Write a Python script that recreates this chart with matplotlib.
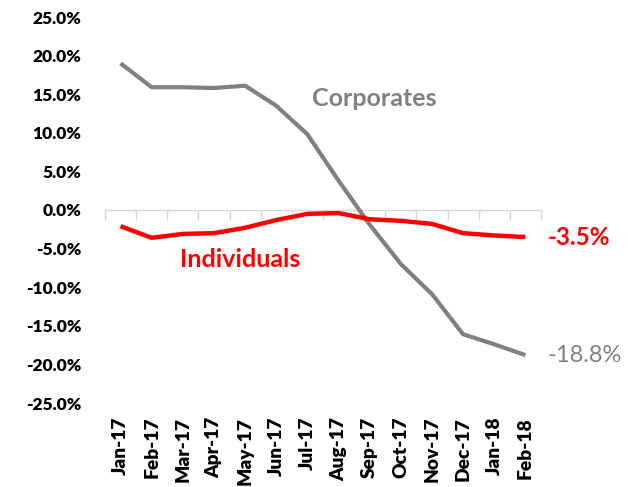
import matplotlib
matplotlib.use("Agg")
import matplotlib.pyplot as plt
import matplotlib.transforms as mtransforms
import numpy as np

months = ["Jan-17", "Feb-17", "Mar-17", "Apr-17", "May-17", "Jun-17", "Jul-17",
          "Aug-17", "Sep-17", "Oct-17", "Nov-17", "Dec-17", "Jan-18", "Feb-18"]
corporates = [19.0, 15.9, 15.9, 15.8, 16.1, 13.5, 9.8, 3.8, -1.9, -7.0, -10.9, -16.1, -17.4, -18.8]
individuals = [-2.1, -3.6, -3.1, -3.0, -2.3, -1.3, -0.5, -0.4, -1.2, -1.4, -1.8, -3.0, -3.3, -3.5]
yticks = [25, 20, 15, 10, 5, 0, -5, -10, -15, -20, -25]

FONT = ["Lato", "DejaVu Sans"]
plt.rcParams["font.family"] = FONT

fig = plt.figure(figsize=(6.28, 4.87), dpi=100)
ax = fig.add_axes([105/628, 1-403/487, (541-105)/628, (403-17)/487])

x = np.arange(len(months))
ax.plot(x, corporates, color="#808080", lw=3.0, solid_capstyle="butt", zorder=3)
ax.plot(x, individuals, color="#ff0000", lw=3.2, solid_capstyle="butt", zorder=4)

ax.set_xlim(-0.5, len(months) - 0.5)
ax.set_ylim(-25, 25)
ax.set_yticks(yticks)
ax.set_yticklabels([f"{v:.1f}%" for v in yticks], fontsize=12.5, fontweight="heavy")
ax.tick_params(axis="y", length=0, pad=17)

for s in ["top", "right", "left"]:
    ax.spines[s].set_visible(False)
ax.spines["bottom"].set_position(("data", 0))
ax.spines["bottom"].set_color("#d9d9d9")
ax.spines["bottom"].set_linewidth(1.0)
ax.set_xticks(np.arange(len(months) + 1) - 0.5)
ax.set_xticklabels([])
ax.tick_params(axis="x", direction="out", length=7, color="#d9d9d9", width=1.0)

trans = mtransforms.blended_transform_factory(ax.transData, ax.transAxes)
for i, m in enumerate(months):
    ax.text(i, -0.036, m, transform=trans, rotation=90, ha="center", va="top",
            fontsize=13.8, fontweight="heavy")

ax.text(8.14, 14.5, "Corporates", color="#808080", fontsize=18, fontweight="bold",
        ha="center", va="center")
ax.text(3.85, -6.4, "Individuals", color="#ff0000", fontsize=18, fontweight="bold",
        ha="center", va="center")
ax.text(13.7, individuals[-1], f"{individuals[-1]:.1f}%", color="#ff0000", fontsize=17.5,
        fontweight="bold", ha="left", va="center", clip_on=False)
ax.text(13.7, corporates[-1], f"{corporates[-1]:.1f}%", color="#808080", fontsize=17,
        ha="left", va="center", clip_on=False)

fig.savefig("out.png", dpi=100)
